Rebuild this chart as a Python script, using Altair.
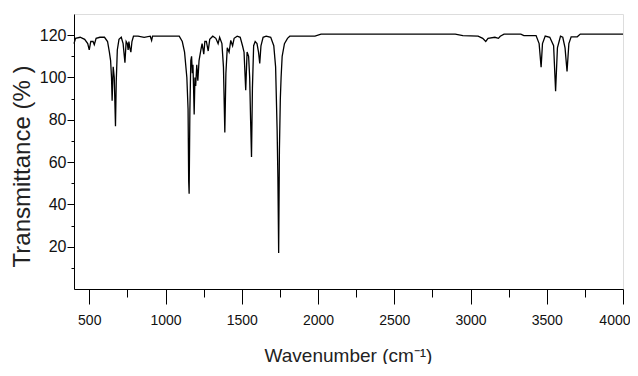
import altair as alt
import pandas as pd

# Wavenumber (cm-1) and transmittance (%)
wavenumber = [
    400, 410, 440, 470, 490, 500, 510, 525, 533, 545, 570, 600, 620, 632, 640, 646,
    650, 657, 664, 672, 677, 684, 695, 710, 722, 734, 742, 750, 755, 760, 766, 773,
    780, 790, 820, 860, 900, 909, 915, 1000, 1090, 1110, 1125, 1140, 1148, 1152,
    1155, 1160, 1166, 1171, 1176, 1180, 1184, 1188, 1193, 1198, 1205, 1212, 1220,
    1232, 1240, 1251, 1258, 1268, 1280, 1290, 1310, 1330, 1345, 1355, 1370, 1380,
    1389, 1396, 1405, 1417, 1428, 1440, 1450, 1470, 1490, 1505, 1515, 1526, 1535,
    1545, 1552, 1558, 1564, 1570, 1578, 1588, 1600, 1610, 1618, 1626, 1640, 1660,
    1690, 1710, 1722, 1732, 1737, 1742, 1747, 1753, 1758, 1765, 1780, 1800, 1815,
    1980, 2020, 2900, 2950, 3050, 3080, 3100, 3115, 3160, 3183, 3195, 3220, 3330,
    3350, 3430, 3450, 3463, 3472, 3490, 3520, 3545, 3558, 3570, 3590, 3605, 3620,
    3633, 3645, 3660, 3700, 3720, 4000,
]
transmittance = [
    116, 118.5, 119, 118, 116, 113, 117, 117, 115.5, 118.5, 119, 119, 117, 112, 108, 100,
    89, 105, 100, 77, 98, 113, 118, 119, 116, 107, 117, 116, 113, 117, 114, 112,
    117, 119.5, 119.5, 119, 119.5, 117.5, 119.5, 119.5, 119.5, 117, 112, 100, 85, 51,
    45, 85, 108, 110, 102, 106, 95, 82.5, 100, 96, 106, 98.5, 108,
    113, 116, 111, 117, 117, 112.5, 118, 119.5, 118.5, 116, 119, 116, 105,
    74, 102, 114, 112, 117.5, 115, 118.5, 119.5, 119, 115, 112, 94, 112,
    110, 100, 80, 62.4, 95, 115, 117, 116, 112, 106.6, 115, 119, 119.5,
    119, 115, 105, 75, 53, 17, 66, 90, 100, 110, 116, 118.5, 119.5,
    119.5, 120.5, 120.5, 119.8, 119.5, 118.5, 117, 118.5, 119, 118.5, 119.5, 120.5, 120.5,
    119.8, 119.8, 116, 104.9, 116, 119.6, 119, 115, 93.5, 114, 119.5, 119, 114,
    102.8, 116, 119.2, 119.2, 120.5, 120.5,
]

x_tick_values = [500, 750, 1000, 1250, 1500, 1750, 2000, 2250, 2500, 2750,
                 3000, 3250, 3500, 3750, 4000]
y_tick_values = [10, 20, 30, 40, 50, 60, 70, 80, 90, 100, 110, 120]

df = pd.DataFrame({"wn": wavenumber, "t": transmittance})

FONT = "Liberation Sans"

chart = alt.Chart(df).mark_line(color="black", strokeWidth=1.3).encode(
    x=alt.X(
        "wn:Q",
        scale=alt.Scale(domain=[400, 4000], nice=False, zero=False),
        axis=alt.Axis(
            title="Wavenumber (cm⁻¹)",
            values=x_tick_values,
            format="d",
            labelExpr="datum.value % 500 === 0 ? datum.label : ''",
            tickSize={"condition": {"test": "datum.value % 500 === 0", "value": 15}, "value": 8},
            labelFlush=1,
            labelFlushOffset=7,
            labelOverlap=False,
            labelPadding=9,
            labelFont=FONT,
            labelFontSize=14,
            labelColor="#111",
            titleFont=FONT,
            titleFontSize=19,
            titleFontWeight="normal",
            titleColor="#222",
            titleX=274,
            titleY=66,
            titleBaseline="middle",
            titleAlign="center",
            grid=False,
            domainColor="black",
            tickColor="black",
        ),
    ),
    y=alt.Y(
        "t:Q",
        scale=alt.Scale(domain=[0, 130], nice=False),
        axis=alt.Axis(
            title="Transmittance (% )",
            values=y_tick_values,
            labelExpr="datum.value % 20 === 0 ? datum.label : ''",
            tickSize={"condition": {"test": "datum.value % 20 === 0", "value": 7}, "value": 3},
            labelOverlap=False,
            labelPadding=1,
            labelFont=FONT,
            labelFontSize=16,
            labelColor="#111",
            titleFont=FONT,
            titleFontSize=24,
            titleFontWeight="normal",
            titleColor="#222",
            titleX=-52,
            titleY=152,
            titleAngle=-90,
            titleBaseline="middle",
            titleAlign="center",
            grid=False,
            domainColor="black",
            tickColor="black",
        ),
    ),
).properties(
    width=549,
    height=275,
    autosize=alt.AutoSizeParams(type="none"),
    padding={"left": 66, "top": 6, "right": 7, "bottom": 75},
).configure_view(stroke="black", strokeWidth=1.2).configure(background="white")

chart.save("out.html", embed_options={"renderer": "svg", "actions": False})
